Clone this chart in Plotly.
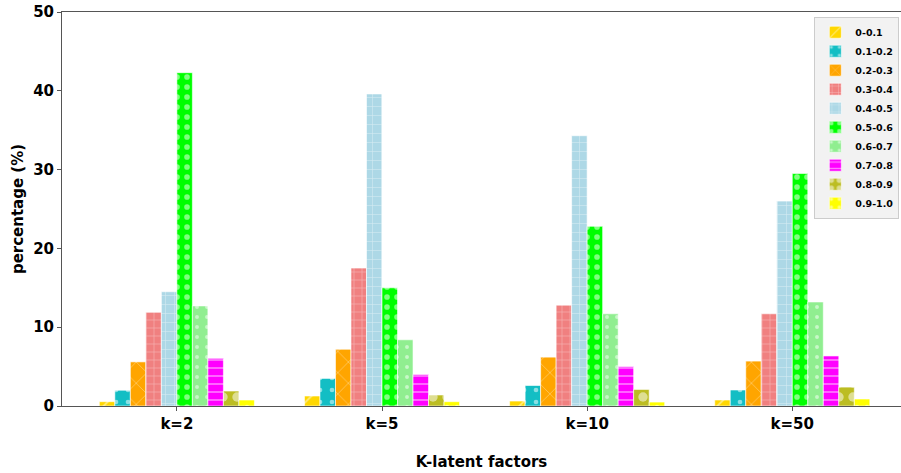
import plotly.graph_objects as go

categories = ["k=2", "k=5", "k=10", "k=50"]
bins = ["0-0.1", "0.1-0.2", "0.2-0.3", "0.3-0.4", "0.4-0.5",
        "0.5-0.6", "0.6-0.7", "0.7-0.8", "0.8-0.9", "0.9-1.0"]

# percentage per bin, for each k (order of categories)
v_00_01 = [0.55, 1.27, 0.63, 0.76]
v_01_02 = [2.0, 3.5, 2.6, 2.03]
v_02_03 = [5.6, 7.2, 6.2, 5.7]
v_03_04 = [11.9, 17.5, 12.8, 11.7]
v_04_05 = [14.5, 39.6, 34.3, 26.0]
v_05_06 = [42.3, 15.0, 22.8, 29.5]
v_06_07 = [12.7, 8.4, 11.7, 13.2]
v_07_08 = [6.05, 4.0, 5.0, 6.35]
v_08_09 = [1.9, 1.4, 2.1, 2.4]
v_09_10 = [0.76, 0.55, 0.5, 0.89]

series = [v_00_01, v_01_02, v_02_03, v_03_04, v_04_05,
          v_05_06, v_06_07, v_07_08, v_08_09, v_09_10]

colors = ["#FFD700", "#13BEC4", "#FFA500", "#F08080", "#ADD8E6",
          "#00FF00", "#90EE90", "#FF00FF", "#BCBD22", "#FFFF00"]
shapes = ["/", ".", "x", "+", "+", ".", ".", "-", ".", "."]
sizes = [14, 12, 15, 8, 9, 10, 10, 8, 14, 10]
solid = [0.12, 0.12, 0.08, 0.12, 0.12, 0.25, 0.12, 0.2, 0.35, 0.15]

fig = go.Figure()
for name, vals, c, sh, sz, so in zip(bins, series, colors, shapes, sizes, solid):
    fig.add_trace(go.Bar(
        name=name, x=categories, y=vals,
        marker=dict(color=c, line=dict(color="white", width=0.6),
                    pattern=dict(shape=sh, fgcolor="white", size=sz,
                                 solidity=so, fillmode="overlay")),
    ))

fig.update_layout(
    width=901, height=473,
    margin=dict(l=62, r=0, t=12, b=67, autoexpand=False),
    barmode="group", bargap=0.244, bargroupgap=0,
    plot_bgcolor="white", paper_bgcolor="white",
    font=dict(family="DejaVu Sans", color="black"),
    legend=dict(x=0.998, y=0.988, xanchor="right", yanchor="top",
                bgcolor="#F2F2F2", bordercolor="#CCCCCC", borderwidth=1,
                font=dict(size=9.5, family="DejaVu Sans", weight="bold"),
                tracegroupgap=0, itemwidth=30),
    showlegend=True,
)
fig.update_xaxes(
    range=[-0.56, 3.53], showline=True, linecolor="#555555", linewidth=1,
    mirror=True, ticks="outside", ticklen=4, tickcolor="#555555",
    tickfont=dict(size=15, weight="bold"), showgrid=False, automargin=False,
    title=dict(text="K-latent factors", font=dict(size=15, weight="bold"),
               standoff=24),
)
fig.update_yaxes(
    range=[0, 50], dtick=10, showline=True, linecolor="#555555", linewidth=1,
    ticks="outside", ticklen=4, tickcolor="#555555",
    tickfont=dict(size=15, weight="bold"), showgrid=False, zeroline=False,
    automargin=False, ticklabeloverflow="allow",
    title=dict(text="percentage (%)", font=dict(size=15, weight="bold"),
               standoff=5),
)

fig.write_html("out.html", config={"displayModeBar": False},
               post_script="document.body.style.margin='0px';")
